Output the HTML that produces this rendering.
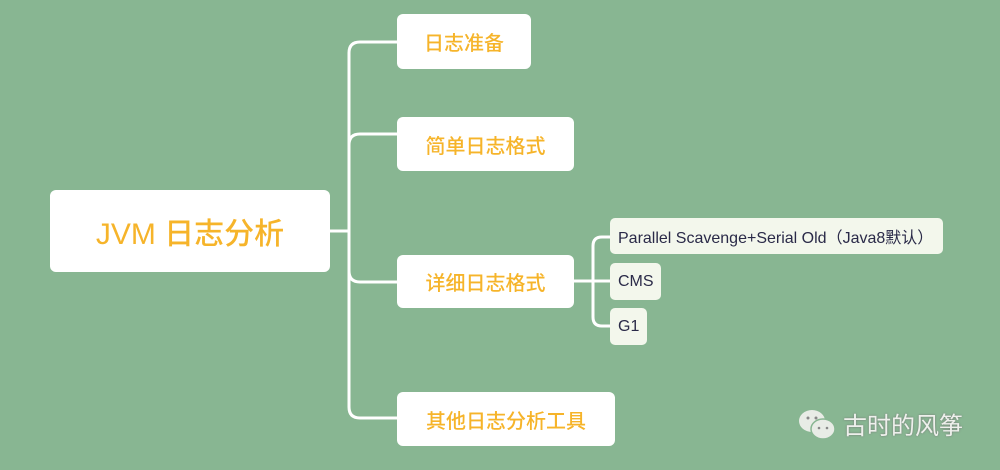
<!DOCTYPE html>
<html><head><meta charset="utf-8"><style>
html,body{margin:0;padding:0;}
body{width:1000px;height:470px;background:#88b692;overflow:hidden;position:relative;font-family:"Liberation Sans","Noto Sans CJK SC",sans-serif;}
.b{position:absolute;background:#fff;border-radius:6px;color:#f6b42a;display:flex;align-items:center;justify-content:center;font-size:20px;font-weight:500;}
.s{position:absolute;background:#f3f7ec;border-radius:5px;color:#2a2a48;display:flex;align-items:center;padding-left:8px;box-sizing:border-box;font-size:16px;}
</style></head><body>
<svg width="1000" height="470" style="position:absolute;left:0;top:0" fill="none" stroke="#fff" stroke-width="3">
<path d="M330 231 H349"/>
<path d="M397 42 H360 Q349 42 349 53 V407 Q349 418 360 418 H397"/>
<path d="M349 145 Q349 134 360 134 H397"/>
<path d="M349 271 Q349 282 360 282 H397"/>
<path d="M574 281 H610"/>
<path d="M610 237 H602 Q593 237 593 246 V317 Q593 326 602 326 H610"/>
</svg>
<div class="b" style="left:50px;top:190px;width:280px;height:82px;font-size:30px;">JVM 日志分析</div>
<div class="b" style="left:397px;top:14px;width:134px;height:55px;">日志准备</div>
<div class="b" style="left:397px;top:117px;width:177px;height:54px;">简单日志格式</div>
<div class="b" style="left:397px;top:255px;width:177px;height:53px;">详细日志格式</div>
<div class="b" style="left:397px;top:392px;width:218px;height:54px;">其他日志分析工具</div>
<div class="s" style="left:610px;top:218px;width:333px;height:36px;">Parallel Scavenge+Serial Old（Java8默认）</div>
<div class="s" style="left:610px;top:263px;width:51px;height:37px;">CMS</div>
<div class="s" style="left:610px;top:308px;width:37px;height:37px;">G1</div>
<svg width="40" height="34" style="position:absolute;left:798px;top:408px">
<ellipse cx="14" cy="13" rx="13" ry="11" fill="#e8ece6"/>
<ellipse cx="25" cy="21" rx="12" ry="10" fill="#e8ece6" stroke="#88b692" stroke-width="1.5"/>
<circle cx="10" cy="10" r="1.5" fill="#888"/><circle cx="18" cy="10" r="1.5" fill="#888"/>
<circle cx="21" cy="20" r="1.3" fill="#888"/><circle cx="29" cy="20" r="1.3" fill="#888"/>
</svg>
<div style="position:absolute;left:843px;top:409px;color:#eef0ec;font-size:24px;font-family:'Noto Sans CJK SC',sans-serif;line-height:30px;text-shadow:0 0 2px #777;">古时的风筝</div>
</body></html>
